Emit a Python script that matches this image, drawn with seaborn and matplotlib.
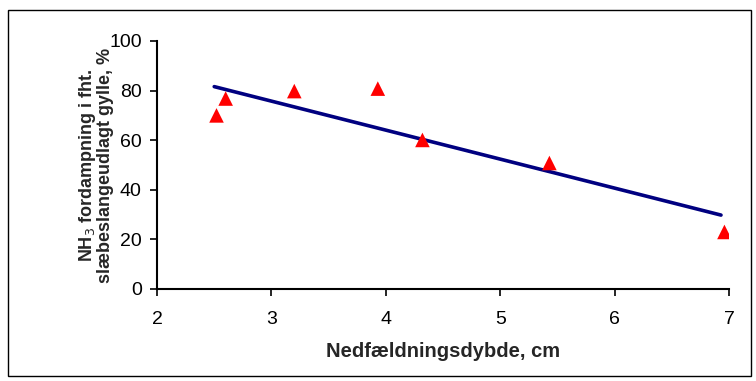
import matplotlib
matplotlib.use("Agg")
import matplotlib.pyplot as plt
import seaborn as sns
import pandas as pd
from matplotlib.patches import Rectangle

# Data
depth_cm = [2.52, 2.60, 3.20, 3.93, 4.32, 5.43, 6.96]
nh3_pct = [70.0, 76.8, 79.8, 80.8, 60.1, 50.8, 23.0]
trend_x = [2.50, 6.93]
trend_y = [81.6, 29.8]
x_ticks = [2, 3, 4, 5, 6, 7]
y_ticks = [0, 20, 40, 60, 80, 100]

sns.set_theme(style="white")
plt.rcParams["font.family"] = ["Liberation Sans", "DejaVu Sans"]

fig = plt.figure(figsize=(7.56, 3.81), dpi=100)
ax = fig.add_axes([0.2077, 0.2415, 0.7566, 0.6509])

pts = pd.DataFrame({"x": depth_cm, "y": nh3_pct})
trend = pd.DataFrame({"x": trend_x, "y": trend_y})

sns.lineplot(data=trend, x="x", y="y", ax=ax, color="#000080", linewidth=2.6, zorder=2)
sns.scatterplot(data=pts, x="x", y="y", ax=ax, marker="^", s=110, color="#ff0000",
                edgecolor="none", linewidth=0, zorder=3)

ax.set_xlim(2, 7)
ax.set_ylim(0, 100)
ax.set_xticks(x_ticks)
ax.set_yticks(y_ticks)
ax.tick_params(axis="both", direction="out", length=5, width=1.2, color="black",
               labelsize=14, labelcolor="black", bottom=True, left=True)
ax.tick_params(axis="x", pad=11)
ax.tick_params(axis="y", pad=6)
for s in ["top", "right"]:
    ax.spines[s].set_visible(False)
for s in ["left", "bottom"]:
    ax.spines[s].set_color("black")
    ax.spines[s].set_linewidth(1.5)

ax.set_xlabel("Nedfældningsdybde, cm", fontsize=14.5, fontweight="bold")
ax.set_ylabel("NH$_3$ fordampning i fht.\nslæbeslangeudlagt gylle, %", fontsize=13,
              fontweight="bold", linespacing=0.95)
ax.yaxis.set_label_coords(-0.075, 0.5)
ax.xaxis.set_label_coords(0.5, -0.215)

# Outer frame around the chart
fig.patches.append(Rectangle((8 / 756, 1 - 376 / 381), (751 - 8) / 756, (376 - 10) / 381,
                             transform=fig.transFigure, fill=False, edgecolor="black",
                             linewidth=1.0))

fig.savefig("out.png", dpi=100)
